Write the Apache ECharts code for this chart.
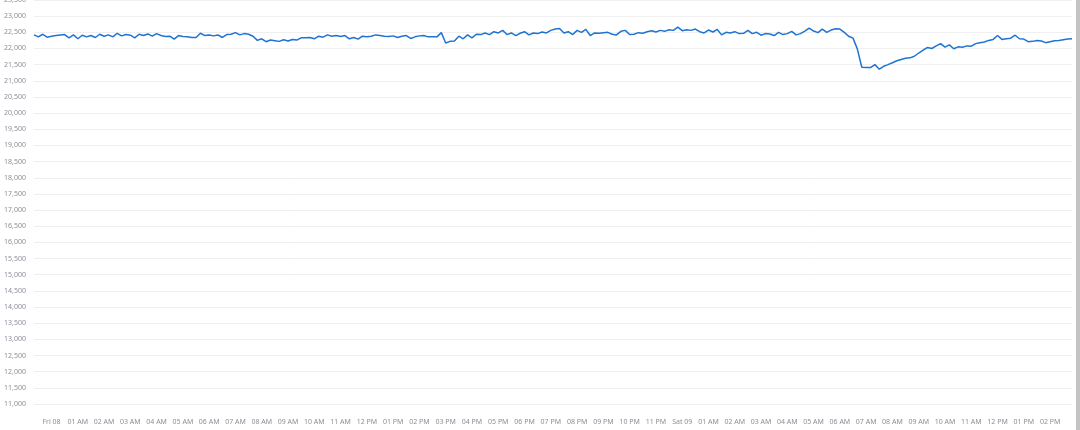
<!DOCTYPE html>
<html>
<head>
<meta charset="utf-8">
<script src="https://cdn.jsdelivr.net/npm/echarts@6/dist/echarts.min.js"></script>
<style>html,body{margin:0;padding:0;background:#fff}#c{width:1080px;height:430px}</style>
</head>
<body>
<div id="c"></div>
<script>
// ---- data ----
const startTime = new Date(2024, 2, 7, 23, 20).getTime(); // Thu 23:20
const stepMinutes = 10;
const values = [
  22420, 22360, 22440, 22350,
  22380, 22400, 22420, 22430, 22330, 22420,
  22300, 22410, 22360, 22400, 22340, 22440,
  22380, 22420, 22360, 22470, 22390, 22430,
  22410, 22330, 22440, 22400, 22450, 22380,
  22460, 22400, 22370, 22380, 22290, 22400,
  22370, 22360, 22340, 22340, 22470, 22400,
  22420, 22390, 22420, 22340, 22430, 22440,
  22490, 22420, 22460, 22440, 22380, 22250,
  22300, 22210, 22260, 22240, 22220, 22270,
  22230, 22280, 22260, 22330, 22330, 22340,
  22300, 22380, 22350, 22420, 22380, 22400,
  22370, 22400, 22300, 22340, 22290, 22380,
  22360, 22380, 22420, 22400, 22380, 22370,
  22390, 22340, 22380, 22400, 22310, 22360,
  22390, 22400, 22360, 22360, 22360, 22490,
  22170, 22220, 22230, 22380, 22300, 22420,
  22330, 22440, 22430, 22480, 22430, 22520,
  22480, 22560, 22430, 22480, 22400, 22470,
  22520, 22420, 22480, 22460, 22510, 22480,
  22560, 22600, 22620, 22480, 22520, 22430,
  22560, 22500, 22590, 22400, 22480, 22470,
  22490, 22500, 22440, 22420, 22530, 22560,
  22430, 22440, 22490, 22470, 22520, 22550,
  22510, 22560, 22530, 22580, 22560, 22660,
  22550, 22580, 22560, 22600, 22520, 22480,
  22570, 22510, 22590, 22420, 22500, 22480,
  22520, 22460, 22470, 22560, 22460, 22500,
  22410, 22460, 22450, 22400, 22500, 22430,
  22460, 22530, 22420, 22460, 22540, 22630,
  22540, 22490, 22600, 22500, 22570, 22610,
  22600, 22500, 22380, 22320, 21980, 21420,
  21410, 21410, 21500, 21360, 21450, 21500,
  21560, 21620, 21660, 21700, 21710, 21760,
  21860, 21950, 22030, 22000, 22080, 22150,
  22040, 22110, 21990, 22050, 22040, 22080,
  22070, 22150, 22180, 22200, 22250, 22280,
  22400, 22280, 22300, 22320, 22410, 22300,
  22290, 22210, 22220, 22250, 22230, 22180,
  22210, 22240, 22250, 22270, 22290, 22300
];
const tickTimes = [];
for (let h = 0; h <= 38; h++) tickTimes.push(new Date(2024, 2, 8, h, 0).getTime());
const yTicks = { min: 11000, max: 23500, step: 500 };
const dayNames = ['Sun','Mon','Tue','Wed','Thu','Fri','Sat'];

// ---- chart ----
const seriesData = values.map((v, i) => [startTime + i * stepMinutes * 60000, v]);
const endTime = startTime + (values.length - 1) * stepMinutes * 60000;

function fmtX(val) {
  const d = new Date(val);
  const h = d.getHours();
  if (h === 0) return dayNames[d.getDay()] + ' ' + String(d.getDate()).padStart(2, '0');
  const h12 = h % 12 === 0 ? 12 : h % 12;
  return String(h12).padStart(2, '0') + (h < 12 ? ' AM' : ' PM');
}

const chart = echarts.init(document.getElementById('c'), null, { renderer: 'canvas' });
chart.setOption({
  animation: false,
  grid: { left: 34, right: 8, top: 0, bottom: 26, containLabel: false, outerBoundsMode: 'none' },
  xAxis: {
    type: 'value',
    min: startTime,
    max: endTime,
    axisLine: { show: false },
    axisTick: { show: false },
    splitLine: { show: false },
    axisLabel: {
      customValues: tickTimes,
      formatter: fmtX,
      color: '#8a8f98',
      fontSize: 7,
      fontFamily: 'Noto Sans',
      margin: 14,
      hideOverlap: false,
      showMinLabel: true,
      showMaxLabel: true
    }
  },
  yAxis: {
    type: 'value',
    min: yTicks.min,
    max: yTicks.max,
    interval: yTicks.step,
    axisLine: { show: false },
    axisTick: { show: false },
    splitLine: { lineStyle: { color: '#efefef', width: 1 } },
    axisLabel: {
      color: '#8a8f98',
      fontSize: 7,
      fontFamily: 'Noto Sans',
      margin: 8,
      formatter: v => v.toLocaleString('en-US')
    }
  },
  series: [{
    type: 'line',
    data: seriesData,
    showSymbol: false,
    symbol: 'none',
    lineStyle: { color: '#1f74d2', width: 1.5 },
    itemStyle: { color: '#1f74d2' }
  }],
  graphic: [
    { type: 'rect', shape: { x: 1076, y: 0, width: 4, height: 430 }, style: { fill: '#c4c4c4' }, z: 100 }
  ]
});
</script>
</body>
</html>
